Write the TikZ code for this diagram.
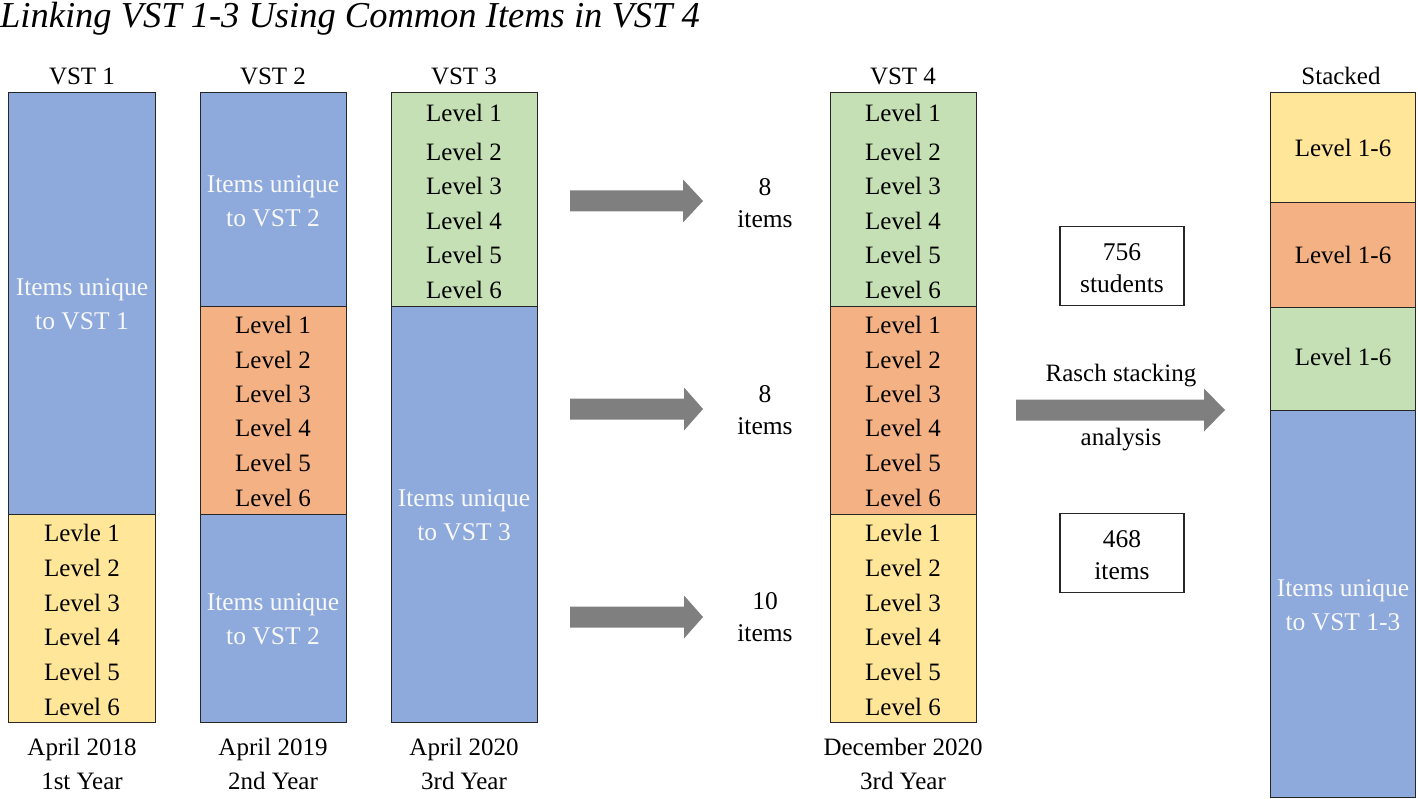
\documentclass[tikz,border=0pt]{standalone}
\usepackage{fontspec}
\setmainfont{Liberation Serif}
\definecolor{cblue}{HTML}{8EA9DB}
\definecolor{corange}{HTML}{F4B183}
\definecolor{cgreen}{HTML}{C5E0B4}
\definecolor{cyellow}{HTML}{FFE699}
\definecolor{cedge}{HTML}{262626}
\definecolor{carrow}{HTML}{7F7F7F}
\definecolor{cwtext}{HTML}{F8F8F8}
\tikzset{
  seg/.style={draw=cedge, line width=1.3pt, anchor=north west, inner sep=0pt},
  lvl/.style={font=\fontsize{25}{28}\selectfont, inner sep=0pt, text=black},
  wtxt/.style={font=\fontsize{25.5}{34}\selectfont, align=center, inner sep=0pt, text=cwtext},
  lbl/.style={font=\fontsize{25}{34}\selectfont, align=center, inner sep=0pt},
  cnt/.style={font=\fontsize{25.5}{32}\selectfont, align=center, inner sep=0pt},
  hdr/.style={font=\fontsize{25}{28}\selectfont, inner sep=0pt},
  infobox/.style={draw=cedge, line width=1.3pt, minimum width=124pt, minimum height=79pt, inner sep=0pt},
  garrow/.style={fill=carrow, draw=none},
}
\newcommand{\blockarrow}[4]{% x start, x head base, x tip, y centre
  \fill[garrow] (#1,#4-10.5) -- (#2,#4-10.5) -- (#2,#4-21.5) -- (#3,#4) -- (#2,#4+21.5) -- (#2,#4+10.5) -- (#1,#4+10.5) -- cycle;}
\begin{document}
\begin{tikzpicture}[x=1pt,y=-1pt]
\useasboundingbox (0,0) rectangle (1418,799);

% title
\node[anchor=base west, inner sep=0pt, font=\fontsize{36.5}{42}\selectfont\itshape] (title) at (0,28) {Linking VST 1-3 Using Common Items in VST 4};

% headers
\node[hdr] (h1) at (82,76) {VST 1};
\node[hdr] (h2) at (273,76) {VST 2};
\node[hdr] (h3) at (464,76) {VST 3};
\node[hdr] (h4) at (903,76) {VST 4};
\node[hdr] (h5) at (1341,76) {Stacked};

% VST 1
\node[seg, fill=cblue, minimum width=147pt, minimum height=422pt] (v1a) at (8,92) {};
\node[seg, fill=cyellow, minimum width=147pt, minimum height=208pt] (v1b) at (8,514) {};
\node[wtxt] (v1t) at (82,304) {Items unique\\to VST 1};
\node[lvl] (v1l1) at (82,533) {Levle 1};
\node[lvl] (v1l2) at (82,568) {Level 2};
\node[lvl] (v1l3) at (82,603) {Level 3};
\node[lvl] (v1l4) at (82,637) {Level 4};
\node[lvl] (v1l5) at (82,672) {Level 5};
\node[lvl] (v1l6) at (82,707) {Level 6};

% VST 2
\node[seg, fill=cblue, minimum width=146pt, minimum height=214pt] (v2a) at (200,92) {};
\node[seg, fill=corange, minimum width=146pt, minimum height=208pt] (v2b) at (200,306) {};
\node[seg, fill=cblue, minimum width=146pt, minimum height=208pt] (v2c) at (200,514) {};
\node[wtxt] (v2t1) at (273,201) {Items unique\\to VST 2};
\foreach \i/\y in {1/325,2/360,3/394,4/428,5/463,6/498}
  \node[lvl] (v2l\i) at (273,\y) {Level \i};
\node[wtxt] (v2t2) at (273,619) {Items unique\\to VST 2};

% VST 3
\node[seg, fill=cgreen, minimum width=146pt, minimum height=214pt] (v3a) at (391,92) {};
\node[seg, fill=cblue, minimum width=146pt, minimum height=416pt] (v3b) at (391,306) {};
\foreach \i/\y in {1/113,2/152,3/186,4/221,5/255,6/290}
  \node[lvl] (v3l\i) at (464,\y) {Level \i};
\node[wtxt] (v3t) at (464,515) {Items unique\\to VST 3};

% VST 4
\node[seg, fill=cgreen, minimum width=146pt, minimum height=214pt] (v4a) at (830,92) {};
\node[seg, fill=corange, minimum width=146pt, minimum height=208pt] (v4b) at (830,306) {};
\node[seg, fill=cyellow, minimum width=146pt, minimum height=208pt] (v4c) at (830,514) {};
\foreach \i/\y in {1/113,2/152,3/186,4/221,5/255,6/290}
  \node[lvl] (v4g\i) at (903,\y) {Level \i};
\foreach \i/\y in {1/325,2/360,3/394,4/428,5/463,6/498}
  \node[lvl] (v4o\i) at (903,\y) {Level \i};
\node[lvl] (v4y1) at (903,533) {Levle 1};
\foreach \i/\y in {2/568,3/603,4/637,5/672,6/707}
  \node[lvl] (v4y\i) at (903,\y) {Level \i};

% Stacked
\node[seg, fill=cyellow, minimum width=145pt, minimum height=110pt] (s1) at (1270,92) {};
\node[seg, fill=corange, minimum width=145pt, minimum height=105pt] (s2) at (1270,202) {};
\node[seg, fill=cgreen, minimum width=145pt, minimum height=103pt] (s3) at (1270,307) {};
\node[seg, fill=cblue, minimum width=145pt, minimum height=387pt] (s4) at (1270,410) {};
\node[lvl] (s1t) at (1343,148) {Level 1-6};
\node[lvl] (s2t) at (1343,255) {Level 1-6};
\node[lvl] (s3t) at (1343,357) {Level 1-6};
\node[wtxt] (s4t) at (1343,605) {Items unique\\to VST 1-3};

% bottom labels
\node[lbl] (b1) at (82,764) {April 2018\\1st Year};
\node[lbl] (b2) at (273,764) {April 2019\\2nd Year};
\node[lbl] (b3) at (464,764) {April 2020\\3rd Year};
\node[lbl] (b4) at (903,764) {December 2020\\3rd Year};

% arrows
\blockarrow{570}{683}{703}{201}
\blockarrow{570}{684}{703}{409}
\blockarrow{570}{684}{703}{617}
\blockarrow{1016}{1204}{1225}{410}

% item counts
\node[cnt] (c1) at (765,203) {8\\items};
\node[cnt] (c2) at (765,410) {8\\items};
\node[cnt] (c3) at (765,617) {10\\items};

\node[lvl] (rasch) at (1121,376) {Rasch stacking};
\node[lvl] (anal) at (1121,440) {analysis};

% info boxes
\node[infobox] (stud) at (1122,266) {};
\node[cnt] (studt) at (1122,268) {756\\students};
\node[infobox] (itm) at (1122,553) {};
\node[cnt] (itmt) at (1122,555) {468\\items};
\end{tikzpicture}
\end{document}
